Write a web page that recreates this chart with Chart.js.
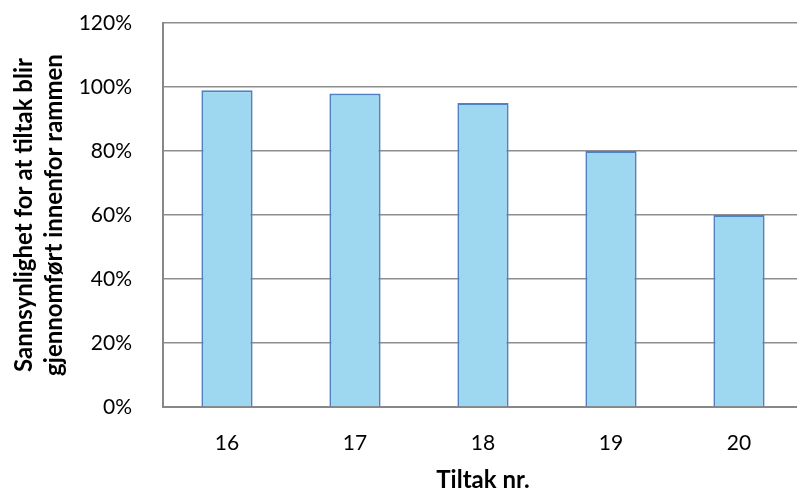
<!DOCTYPE html>
<html>
<head>
<meta charset="utf-8">
<script src="https://cdn.jsdelivr.net/npm/chart.js@4/dist/chart.umd.min.js"></script>
<style>
  html, body { margin: 0; padding: 0; background: #fff; overflow: hidden; }
  #wrap { width: 797px; height: 490px; overflow: hidden; }
  canvas { display: block; }
</style>
</head>
<body>
<div id="wrap"><canvas id="c" width="812" height="490"></canvas></div>
<script>
// Tiltak numbers and the probability (in %) of each being carried out within the budget
const categories = ['16', '17', '18', '19', '20'];
const probability = [99, 98, 95, 80, 60];
const yTitleLines = ['Sannsynlighet for at tiltak blir', 'gjennomført innenfor rammen'];
const xTitle = 'Tiltak nr.';

const FONT = 'Lato, "Open Sans", "Liberation Sans", sans-serif';
const TITLE_FONT = 'bold 24px ' + FONT;

// Axis titles: the value-axis title runs over two rotated lines
const axisTitlePlugin = {
  id: 'axisTitles',
  afterDraw(chart) {
    const { ctx, chartArea } = chart;
    ctx.save();
    ctx.font = TITLE_FONT;
    ctx.fillStyle = '#000';
    ctx.textAlign = 'center';
    ctx.textBaseline = 'alphabetic';

    const cy = (chartArea.top + chartArea.bottom) / 2;
    const baselines = [32, 62];
    yTitleLines.forEach((line, i) => {
      ctx.save();
      ctx.translate(baselines[i], cy);
      ctx.rotate(-Math.PI / 2);
      ctx.fillText(line, 0, 0);
      ctx.restore();
    });

    const cx = (chartArea.left + chartArea.right) / 2;
    ctx.fillText(xTitle, cx, 488);
    ctx.restore();
  }
};

new Chart(document.getElementById('c'), {
  type: 'bar',
  data: {
    labels: categories,
    datasets: [{
      data: probability,
      backgroundColor: '#9dd8f0',
      borderColor: '#4f81c4',
      borderWidth: 2,
      barPercentage: 0.4,
      categoryPercentage: 1.0
    }]
  },
  options: {
    responsive: false,
    animation: false,
    layout: { autoPadding: false, padding: { left: 0, right: 9, top: 23, bottom: 0 } },
    plugins: {
      legend: { display: false },
      tooltip: { enabled: false }
    },
    scales: {
      x: {
        afterFit(scale) {
          scale.height = 83;
          scale.paddingLeft = 0;
          scale.paddingRight = 0;
        },
        grid: { display: false, drawTicks: false },
        border: { color: '#878787', width: 2 },
        ticks: { color: '#000', font: { family: FONT, size: 21 }, padding: 24 }
      },
      y: {
        min: 0,
        max: 120,
        afterFit(scale) {
          scale.width = 163;
          scale.paddingTop = 0;
          scale.paddingBottom = 0;
        },
        grid: { color: '#8e8e8e', lineWidth: 1.5, drawTicks: false },
        border: { color: '#878787', width: 2 },
        ticks: {
          stepSize: 20,
          color: '#000',
          font: { family: FONT, size: 21 },
          padding: 31,
          callback: v => v + '%'
        }
      }
    }
  },
  plugins: [axisTitlePlugin]
});
</script>
</body>
</html>
